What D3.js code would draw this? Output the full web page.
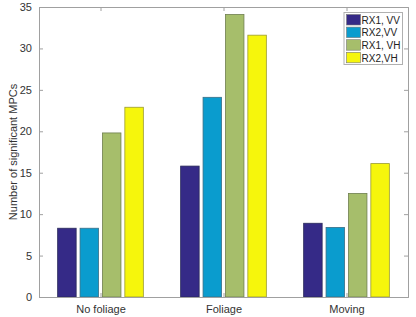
<!DOCTYPE html>
<html>
<head>
<meta charset="utf-8">
<script src="https://cdn.jsdelivr.net/npm/d3@7"></script>
<style>
  body { margin: 0; background: #fff; }
  text { font-family: "Liberation Sans", Arial, sans-serif; }
</style>
</head>
<body>
<div id="chart"></div>
<script>
// data
var categories = ["No foliage", "Foliage", "Moving"];
var seriesNames = ["RX1, VV", "RX2,VV", "RX1, VH", "RX2,VH"];
var rx1vv = [8.3, 15.8, 8.9];
var rx2vv = [8.3, 24.1, 8.4];
var rx1vh = [19.8, 34.1, 12.5];
var rx2vh = [22.9, 31.6, 16.1];
var yTicks = [0, 5, 10, 15, 20, 25, 30, 35];

var series = [rx1vv, rx2vv, rx1vh, rx2vh];
var colors = ["#352a87", "#0a9cce", "#a6be6b", "#f6f60c"];
var edges = ["#2a2a5a", "#3a6f86", "#6f7f50", "#9a9a30"];

var W = 416, H = 317;
var margin = {top: 7, right: 8, bottom: 20, left: 39};
var width = W - margin.left - margin.right,
    height = H - margin.top - margin.bottom;

var svg = d3.select("#chart").append("svg")
    .attr("width", W)
    .attr("height", H);
var g = svg.append("g")
    .attr("transform", "translate(" + margin.left + "," + margin.top + ")");

var x = d3.scaleLinear().domain([0.5, 3.5]).range([0, width]);
var y = d3.scaleLinear().domain([0, 35]).range([height, 0]);

var barW = 18.5, step = 22.4;

// bars
series.forEach(function(s, si) {
    g.selectAll(".bar" + si)
        .data(s)
        .enter().append("rect")
        .attr("x", function(d, i) { return x(i + 1) + (si - 1.5) * step - barW / 2; })
        .attr("y", function(d) { return y(d); })
        .attr("width", barW)
        .attr("height", function(d) { return y(0) - y(d); })
        .attr("fill", colors[si])
        .attr("stroke", edges[si])
        .attr("stroke-width", 0.8);
});

var axisColor = "#a0a0a0";

// left axis, ticks inside
var yAxis = g.append("g")
    .call(d3.axisLeft(y).tickValues(yTicks).tickSize(-4).tickPadding(7));
yAxis.select(".domain").attr("stroke", axisColor);
yAxis.selectAll("line").attr("stroke", axisColor);
yAxis.selectAll("text").attr("fill", "#333").style("font-size", "11px");

// right axis
var yAxisR = g.append("g")
    .attr("transform", "translate(" + width + ",0)")
    .call(d3.axisRight(y).tickValues(yTicks).tickSize(-4).tickFormat(""));
yAxisR.select(".domain").attr("stroke", axisColor);
yAxisR.selectAll("line").attr("stroke", axisColor);

// bottom axis
var xAxis = g.append("g")
    .attr("transform", "translate(0," + height + ")")
    .call(d3.axisBottom(x).tickValues([1, 2, 3]).tickSize(-4).tickPadding(8)
        .tickFormat(function(d) { return categories[d - 1]; }));
xAxis.select(".domain").attr("stroke", axisColor);
xAxis.selectAll("line").attr("stroke", axisColor);
xAxis.selectAll("text").attr("fill", "#333").style("font-size", "11px");

// top axis
var xAxisT = g.append("g")
    .call(d3.axisTop(x).tickValues([1, 2, 3]).tickSize(-4).tickFormat(""));
xAxisT.select(".domain").attr("stroke", axisColor);
xAxisT.selectAll("line").attr("stroke", axisColor);

// y label
svg.append("text")
    .attr("transform", "translate(17," + (margin.top + height / 2) + ") rotate(-90)")
    .attr("text-anchor", "middle")
    .attr("fill", "#333")
    .style("font-size", "11px")
    .text("Number of significant MPCs");

// legend
var lg = svg.append("g").attr("transform", "translate(344,12.5)");
lg.append("rect")
    .attr("width", 58.5).attr("height", 52)
    .attr("fill", "#fff").attr("stroke", "#b0b0b0");
seriesNames.forEach(function(n, i) {
    lg.append("rect")
        .attr("x", 2.5).attr("y", 2 + i * 12.6)
        .attr("width", 14).attr("height", 10.5)
        .attr("fill", colors[i]).attr("stroke", "#777").attr("stroke-width", 0.6);
    lg.append("text")
        .attr("x", 17.5).attr("y", 11.2 + i * 12.6)
        .attr("fill", "#222")
        .style("font-size", "10px")
        .text(n);
});
</script>
</body>
</html>
